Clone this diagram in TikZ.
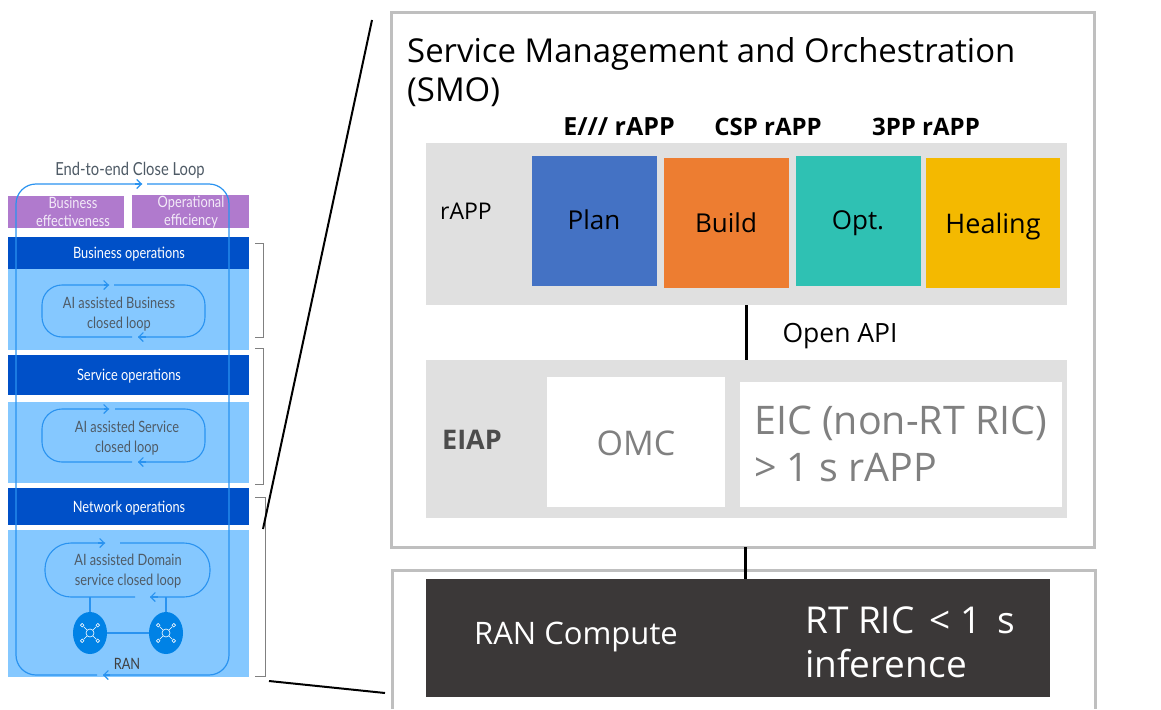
\documentclass[tikz,border=0pt]{standalone}
\usepackage{fontspec}
\setmainfont{Open Sans}
\newfontfamily\leftfont[FakeStretch=0.82]{Lato}
\usetikzlibrary{arrows.meta,shapes.geometric}
\definecolor{panelgray}{HTML}{E0E0E0}
\definecolor{framegray}{HTML}{BFBFBF}
\definecolor{darkbox}{HTML}{3B3838}
\definecolor{planblue}{HTML}{4472C4}
\definecolor{buildorange}{HTML}{ED7D31}
\definecolor{optteal}{HTML}{2FC1B3}
\definecolor{healyellow}{HTML}{F4B900}
\definecolor{purplebox}{HTML}{B07ACD}
\definecolor{deepblue}{HTML}{0050C8}
\definecolor{lightblue}{HTML}{85C8FF}
\definecolor{loopblue}{HTML}{2A93F0}
\definecolor{nodeblue}{HTML}{0082E6}
\definecolor{softtext}{HTML}{4F5B66}
\newcommand{\fs}[1]{\pgfmathsetmacro\fsl{#1*1.18}\fontsize{#1}{\fsl}\selectfont}
\newcommand{\bx}[7]{%
  \pgfmathsetmacro{\bxw}{#4-#2}\pgfmathsetmacro{\bxh}{#5-#3}%
  \node[#6,minimum width=\bxw pt,minimum height=\bxh pt] (#1) at ({(#2+#4)/2},{(#3+#5)/2}) {#7};}
\tikzset{
  flat/.style={draw=none,fill=#1,inner sep=0pt,outer sep=0pt,rectangle},
  frame/.style={draw=framegray,line width=3pt,fill=white,inner sep=0pt,outer sep=0pt,rectangle},
  loopline/.style={draw=loopblue,line width=1.1pt,rounded corners=20pt},
  looptip/.style={draw=loopblue,line width=1.1pt,-{Straight Barb[length=4.5pt,width=9pt]}},
  ltext/.style={font=\leftfont\fs{15.6},text=softtext,align=center,inner sep=0pt},
  wtext/.style={font=\leftfont\fs{15.6},text=white,align=center,inner sep=0pt},
  bracket/.style={draw=gray,line width=1pt},
  zoomline/.style={draw=black,line width=2pt},
  conn/.style={draw=black,line width=3pt},
  tt/.style={inner sep=0pt,align=left},
  iconline/.style={draw=white,line width=0.6pt}
}
\newcommand{\neticon}[1]{%
  \draw[iconline] (#1) circle (4pt);
  \foreach \ang in {45,135,225,315}{
    \draw[iconline] (#1) ++(\ang:4pt) -- ++(\ang:5pt);
    \draw[iconline] (#1) ++(\ang:11pt) circle (1.8pt);
  }}
\begin{document}
\begin{tikzpicture}[x=1pt,y=-1pt]
\useasboundingbox (0,0) rectangle (1161,709);
\fill[white] (0,0) rectangle (1161,709);

% left stack
\bx{pa}{8}{196}{124}{228}{flat=purplebox}{}
\bx{pb}{132}{195}{249}{228}{flat=purplebox}{}
\bx{bo}{8}{237}{249}{269}{flat=deepblue}{}
\bx{bl}{8}{269}{249}{350}{flat=lightblue}{}
\bx{so}{8}{355}{249}{395}{flat=deepblue}{}
\bx{sl}{8}{402}{249}{483}{flat=lightblue}{}
\bx{no}{8}{488}{249}{525}{flat=deepblue}{}
\bx{nl}{8}{530}{249}{677}{flat=lightblue}{}

\node[ltext,font=\leftfont\fs{18}] (e2e) at (130,170) {End-to-end Close Loop};
\node[wtext,text=white!85!purplebox] (pat) at (73,212) {Business\\[-1pt]effectiveness};
\node[wtext,text=white!85!purplebox] (pbt) at (191,212) {Operational\\[-1pt]efficiency};
\node[wtext] (bot) at (129,254) {Business operations};
\node[wtext] (sot) at (129,376) {Service operations};
\node[wtext] (not) at (129,508) {Network operations};
\node[ltext] (blt) at (119,314) {AI assisted Business\\[1pt]closed loop};
\node[ltext] (slt) at (127,438) {AI assisted Service\\[1pt]closed loop};
\node[ltext] (nlt) at (128,571) {AI assisted Domain\\[1pt]service closed loop};
\node[ltext,text=black!75] (rant) at (127,664) {RAN};

% small loops
\coordinate (l1a) at (114,285); \coordinate (l1b) at (205,285); \coordinate (l1c) at (205,337);
\coordinate (l1d) at (138,337); \coordinate (l1e) at (132,337); \coordinate (l1f) at (42,337);
\coordinate (l1g) at (42,285); \coordinate (l1h) at (109,285);
\draw[loopline] (l1a) -- (l1b) -- (l1c) -- (l1d);
\draw[loopline] (l1e) -- (l1f) -- (l1g) -- (l1h);
\draw[looptip] (104,285) -- (l1h);
\draw[looptip] (146,337) -- (l1d);

\coordinate (l2a) at (115,409); \coordinate (l2b) at (205,409); \coordinate (l2c) at (205,462);
\coordinate (l2d) at (138,462); \coordinate (l2e) at (132,462); \coordinate (l2f) at (42,462);
\coordinate (l2g) at (42,409); \coordinate (l2h) at (109,409);
\draw[loopline] (l2a) -- (l2b) -- (l2c) -- (l2d);
\draw[loopline] (l2e) -- (l2f) -- (l2g) -- (l2h);
\draw[looptip] (104,409) -- (l2h);
\draw[looptip] (146,462) -- (l2d);

\coordinate (l3a) at (120,543); \coordinate (l3b) at (210,543); \coordinate (l3c) at (210,597);
\coordinate (l3d) at (150,597); \coordinate (l3e) at (135,597); \coordinate (l3f) at (45,597);
\coordinate (l3g) at (45,543); \coordinate (l3h) at (105,543);
\draw[loopline,rounded corners=26pt] (l3a) -- (l3b) -- (l3c) -- (l3d);
\draw[loopline,rounded corners=26pt] (l3e) -- (l3f) -- (l3g) -- (l3h);
\draw[looptip] (98,543) -- (l3h);
\draw[looptip] (158,597) -- (l3d);

% RAN nodes
\node[ellipse,fill=nodeblue,minimum width=34pt,minimum height=42pt,inner sep=0pt] (n1) at (90,633) {};
\node[ellipse,fill=nodeblue,minimum width=34pt,minimum height=42pt,inner sep=0pt] (n2) at (166,633) {};
\coordinate (n1up) at (90,597); \coordinate (n2up) at (166,597);
\draw[draw=loopblue,line width=1.1pt] (n1up) -- (n1.north);
\draw[draw=loopblue,line width=1.1pt] (n2up) -- (n2.north);
\draw[draw=loopblue,line width=1.1pt] (n1) -- (n2);
\neticon{n1}
\neticon{n2}

% big loop
\coordinate (ba) at (147,184); \coordinate (bb) at (229,184); \coordinate (bc) at (229,675);
\coordinate (bd) at (103,675); \coordinate (be) at (97,675); \coordinate (bf) at (16,675);
\coordinate (bg) at (16,184); \coordinate (bh) at (142,184);
\draw[loopline,rounded corners=20pt,line width=1.2pt] (ba) -- (bb) -- (bc) -- (bd);
\draw[loopline,rounded corners=20pt,line width=1.2pt] (be) -- (bf) -- (bg) -- (bh);
\draw[looptip] (135,184) -- (bh);
\draw[looptip] (110,675) -- (bd);

% brackets
\coordinate (b1a) at (255,243); \coordinate (b1b) at (263,243); \coordinate (b1c) at (263,337); \coordinate (b1d) at (255,337);
\coordinate (b2a) at (255,348); \coordinate (b2b) at (263,348); \coordinate (b2c) at (263,484); \coordinate (b2d) at (255,484);
\coordinate (b3a) at (255,497); \coordinate (b3b) at (265,497); \coordinate (b3c) at (265,676); \coordinate (b3d) at (255,676);
\draw[bracket] (b1a) -- (b1b) -- (b1c) -- (b1d);
\draw[bracket] (b2a) -- (b2b) -- (b2c) -- (b2d);
\draw[bracket] (b3a) -- (b3b) -- (b3c) -- (b3d);

% zoom lines
\coordinate (z1a) at (372,20); \coordinate (z1b) at (263,529);
\coordinate (z2a) at (269,681); \coordinate (z2b) at (385,693);
\draw[zoomline] (z1a) -- (z1b);
\draw[zoomline] (z2a) -- (z2b);

% right frames
\bx{smo}{391}{13}{1094}{547}{frame}{}
\coordinate (ran1) at (392,709); \coordinate (ran2) at (392,570); \coordinate (ran3) at (1095,570); \coordinate (ran4) at (1095,709);
\draw[draw=framegray,line width=3pt] (ran1) -- (ran2) -- (ran3) -- (ran4);

\node[tt,anchor=west,font=\fs{32.9}] (smot) at (407,72) {Service Management and Orchestration\\(SMO)};

\bx{rapp}{426}{143}{1067}{305}{flat=panelgray}{}
\bx{plan}{532}{156}{657}{286}{flat=planblue}{}
\bx{build}{664}{158}{789}{288}{flat=buildorange}{}
\bx{opt}{796}{156}{921}{286}{flat=optteal}{}
\bx{heal}{926}{158}{1060}{288}{flat=healyellow}{}
\node[tt,font=\fs{26}] (plant) at (594,220) {Plan};
\node[tt,font=\fs{26}] (buildt) at (726,223) {Build};
\node[tt,font=\fs{26}] (optt) at (858,223) {Opt.};
\node[tt,font=\fs{27}] (healt) at (993,226) {Healing};
\node[tt,font=\fs{23}] (rappt) at (466,211) {rAPP};
\node[tt,font=\bfseries\fs{25}] (e3) at (619,127) {E/// rAPP};
\node[tt,font=\bfseries\fs{24}] (csp) at (768,127) {CSP rAPP};
\node[tt,font=\bfseries\fs{24}] (pp3) at (926,127) {3PP rAPP};

\bx{eiap}{426}{360}{1067}{518}{flat=panelgray}{}
\bx{omc}{547}{377}{725}{507}{flat=white}{}
\bx{eic}{740}{382}{1062}{507}{flat=white}{}
\node[tt,font=\bfseries\fs{27},text=black!70] (eiapt) at (472,440) {EIAP};
\node[tt,font=\fs{34},text=black!50] (omct) at (636,443) {OMC};
\node[tt,anchor=west,font=\fs{39.4},text=black!50] (eict) at (754,444) {EIC (non-RT RIC)\\> 1 s rAPP};

\coordinate (apix) at (746,0);
\draw[conn] (rapp.south -| apix) -- (eiap.north -| apix);
\node[tt,font=\fs{26.5}] (api) at (840,336) {Open API};

\bx{ranb}{426}{579}{1050}{697}{flat=darkbox}{}
\coordinate (ranx) at (745,0);
\draw[conn] (smo.south -| ranx) -- (ranb.north -| ranx);
\node[tt,font=\fs{31},text=white] (rant2) at (576,637) {RAN Compute};
\node[tt,anchor=west,font=\fs{37},text=white] (rict) at (805,642) {RT RIC\hspace{5pt} < 1\hspace{7pt} s\\inference};
\end{tikzpicture}
\end{document}
